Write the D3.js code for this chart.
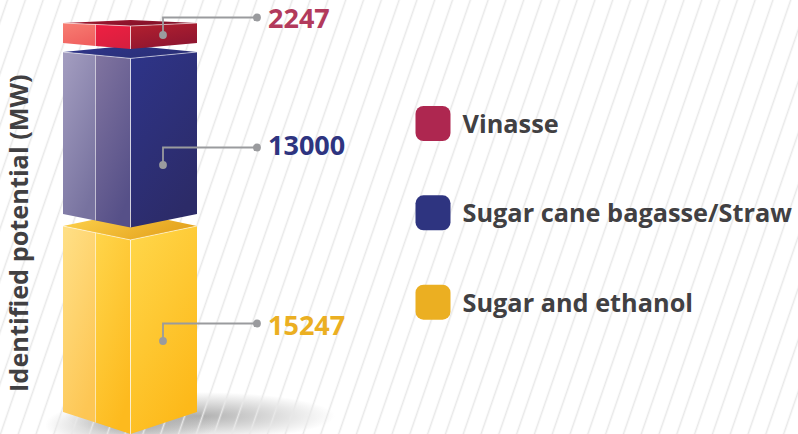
<!DOCTYPE html>
<html>
<head>
<meta charset="utf-8">
<script src="https://cdn.jsdelivr.net/npm/d3@7"></script>
<style>
  html, body { margin: 0; padding: 0; background: #fff; }
  svg { display: block; }
  text { font-family: "Open Sans", sans-serif; font-weight: 700; }
</style>
</head>
<body>
<div id="chart"></div>
<script>
// stacked bottom to top
const categories = ['Sugar and ethanol', 'Sugar cane bagasse/Straw', 'Vinasse'];
const values = [15247, 13000, 2247];
const legendOrder = ['Vinasse', 'Sugar cane bagasse/Straw', 'Sugar and ethanol'];
const axisLabel = 'Identified potential (MW)';

const width = 798;
const height = 434;
const base = 412;   // bottom of the left edge of the stack
const gaps = [12, 9];

const palette = {
  'Sugar and ethanol': {
    text: '#ebaf22', legend: '#ebaf22',
    top: ['#ffd54f', '#e5a41f'],
    a: ['#ffdf85', '#fdc654'], b: ['#ffd449', '#fdba1e'], c: ['#ffd649', '#fdb91a']
  },
  'Sugar cane bagasse/Straw': {
    text: '#2e3480', legend: '#2e3480',
    top: ['#2f358a', '#2a2f78'],
    a: ['#a29cbf', '#77729f'], b: ['#7f739f', '#565088'], c: ['#2e3488', '#2c2b68']
  },
  'Vinasse': {
    text: '#b23a5c', legend: '#ae2750',
    top: ['#a3182f', '#7f1028'],
    a: ['#f77d72', '#f0605f'], b: ['#ee1f42', '#d81f3f'], c: ['#b3202f', '#8e1530']
  }
};

// the picture is not proportional for the small block, so the scale is piecewise
const h = d3.scaleLinear().domain([0, 2247, 13000, 15247]).range([0, 20, 162, 186]);
const x = d3.scaleOrdinal().domain(['left', 'm1', 'm2', 'right']).range([63, 95.5, 130.5, 197]);
// how far the front corner drops below the side corners, grows toward the bottom
const drop = d3.scaleLinear().domain([23, 43, 412]).range([3, 6, 22]);

const svg = d3.select('#chart').append('svg').attr('width', width).attr('height', height);
const defs = svg.append('defs');

function gradient(id, cols, x1, y1, x2, y2) {
  const g = defs.append('linearGradient').attr('id', id)
    .attr('x1', x1).attr('y1', y1).attr('x2', x2).attr('y2', y2);
  g.append('stop').attr('offset', 0).attr('stop-color', cols[0]);
  g.append('stop').attr('offset', 1).attr('stop-color', cols[1]);
  return `url(#${id})`;
}

// shadow under the stack, the hatch goes on top of it
const sh = defs.append('radialGradient').attr('id', 'shadow');
sh.append('stop').attr('offset', 0).attr('stop-color', '#8f8f8f').attr('stop-opacity', 0.7);
sh.append('stop').attr('offset', 1).attr('stop-color', '#8f8f8f').attr('stop-opacity', 0);
svg.append('ellipse').attr('cx', 200).attr('cy', 416).attr('rx', 135).attr('ry', 24)
  .attr('fill', 'url(#shadow)');
svg.append('ellipse').attr('cx', 130).attr('cy', 425).attr('rx', 85).attr('ry', 24)
  .attr('fill', 'url(#shadow)');

// background hatch
const hatch = defs.append('pattern').attr('id', 'hatch')
  .attr('patternUnits', 'userSpaceOnUse')
  .attr('width', 17.8).attr('height', height)
  .attr('patternTransform', 'skewX(-19)');
hatch.append('line').attr('x1', 7.5).attr('x2', 7.5).attr('y1', 0).attr('y2', height)
  .attr('stroke', '#e8e8e8').attr('stroke-width', 1.6);
svg.append('rect').attr('width', width).attr('height', height).attr('fill', 'url(#hatch)');

const line = d3.line();
let bottom = base;

const blocks = categories.map((name, i) => {
  const top = bottom - h(values[i]);
  const b = { name, value: values[i], top, bottom, i };
  bottom = top - (gaps[i] || 0);
  return b;
});

const g = svg.selectAll('g.block').data(blocks).enter().append('g').attr('class', 'block');

g.each(function(d) {
  const sel = d3.select(this);
  const p = palette[d.name];
  const dTop = drop(d.top), dBot = drop(d.bottom);
  const edge = (xv, yv, dv) => {
    // corners along the front faces follow the drop linearly out to each side
    const xl = x('left'), xm = x('m2'), xr = x('right');
    const t = xv <= xm ? (xv - xl) / (xm - xl) : (xr - xv) / (xr - xm);
    return [xv, yv + t * dv];
  };
  const faces = [
    { id: 'a', from: x('left'), to: x('m1') },
    { id: 'b', from: x('m1'), to: x('m2') },
    { id: 'c', from: x('m2'), to: x('right') }
  ];
  // top face
  sel.append('path')
    .attr('d', line([[x('left'), d.top], [x('m2'), d.top - dTop], [x('right'), d.top], [x('m2'), d.top + dTop]]) + 'Z')
    .attr('fill', gradient(`top${d.i}`, p.top, 0, 0, 1, 0.4));
  faces.forEach(f => {
    sel.append('path')
      .attr('d', line([
        edge(f.from, d.top, dTop), edge(f.to, d.top, dTop),
        edge(f.to, d.bottom, dBot), edge(f.from, d.bottom, dBot)
      ]) + 'Z')
      .attr('fill', gradient(`${f.id}${d.i}`, p[f.id], 0.1, 0, 0.6, 1));
  });
  // thin light edges
  sel.append('path')
    .attr('d', line([[x('left'), d.top], [x('m2'), d.top + dTop], [x('right'), d.top]]))
    .attr('fill', 'none').attr('stroke', '#fff').attr('stroke-opacity', 0.55).attr('stroke-width', 1);
  sel.append('path')
    .attr('d', line([[x('m2'), d.top + dTop], [x('m2'), d.bottom + dBot]]))
    .attr('fill', 'none').attr('stroke', '#fff').attr('stroke-opacity', 0.7).attr('stroke-width', 1);
  sel.append('path')
    .attr('d', line([edge(x('m1'), d.top, dTop), edge(x('m1'), d.bottom, dBot)]))
    .attr('fill', 'none').attr('stroke', '#fff').attr('stroke-opacity', 0.45).attr('stroke-width', 1);
});

// leader lines and value labels
const leaderX = 163, leaderEnd = 257;
const leaderY = d3.scaleOrdinal().domain(categories).range([323.5, 147.5, 17.5]);
const dotY = d3.scaleOrdinal().domain(categories).range([341, 165, 35]);
const labelY = d3.scaleOrdinal().domain(categories).range([335, 154.5, 28]);

const lead = svg.selectAll('g.lead').data(blocks).enter().append('g').attr('class', 'lead');
lead.append('path')
  .attr('d', d => line([[leaderX, dotY(d.name)], [leaderX, leaderY(d.name)], [leaderEnd, leaderY(d.name)]]))
  .attr('fill', 'none').attr('stroke', '#9a9b9e').attr('stroke-width', 1.8);
lead.append('circle').attr('cx', leaderX).attr('cy', d => dotY(d.name)).attr('r', 3.9).attr('fill', '#9a9b9e');
lead.append('circle').attr('cx', leaderEnd).attr('cy', d => leaderY(d.name)).attr('r', 3.9).attr('fill', '#9a9b9e');
lead.append('text')
  .attr('x', 268).attr('y', d => labelY(d.name))
  .attr('font-size', 27)
  .attr('fill', d => palette[d.name].text)
  .text(d => d.value);

// legend
const legendY = d3.scalePoint().domain(legendOrder).range([123.5, 302.2]);
const leg = svg.selectAll('g.leg').data(legendOrder).enter().append('g').attr('class', 'leg')
  .attr('transform', d => `translate(415.5,${legendY(d)})`);
leg.append('rect').attr('y', -17.5).attr('width', 35).attr('height', 35).attr('rx', 8)
  .attr('fill', d => palette[d].legend);
leg.append('text').attr('x', 47).attr('y', 9.5).attr('font-size', 25.3).attr('fill', '#414042').text(d => d);

svg.append('text')
  .attr('transform', 'translate(28,392) rotate(-90)')
  .attr('font-size', 25.3).attr('fill', '#414042')
  .text(axisLabel);
</script>
</body>
</html>
